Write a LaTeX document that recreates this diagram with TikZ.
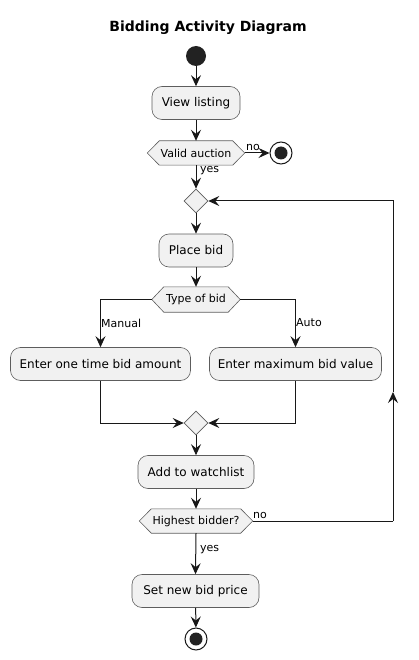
\documentclass[tikz,border=0pt]{standalone}
\usepackage{fontspec}
\setmainfont{DejaVu Sans}
\usetikzlibrary{arrows.meta,backgrounds,calc,shapes.geometric}
\definecolor{boxfill}{HTML}{F1F1F1}
\definecolor{boxline}{HTML}{5D5D5D}
\definecolor{ink}{HTML}{181818}
\definecolor{dot}{HTML}{222222}
\tikzset{
 actbox/.style={draw=boxline, fill=boxfill, rounded corners=10pt, line width=0.6pt, font=\fontsize{12}{14}\selectfont, inner sep=0pt, minimum height=33pt},
 hexnode/.style={inner sep=0pt, minimum height=24pt, font=\fontsize{11}{13}\selectfont},
 hexline/.style={draw=boxline, fill=boxfill, line width=0.6pt},
 flow/.style={draw=ink, line width=1pt, -{Stealth[length=11pt,width=10pt,inset=4pt]}},
 plain/.style={draw=ink, line width=1pt},
 lbl/.style={font=\fontsize{11}{13}\selectfont, inner sep=0pt, anchor=west, text=black},
 merge/.style={diamond, draw=boxline, fill=boxfill, line width=0.6pt, inner sep=0pt, minimum width=24pt, minimum height=24pt},
 startdot/.style={circle, fill=dot, minimum size=20pt, inner sep=0pt},
 enddot/.style={circle, draw=ink, fill=white, line width=1pt, minimum size=22pt, inner sep=0pt,
   path picture={\fill[dot] (path picture bounding box.center) circle (6.5pt);}}
}
\begin{document}
\begin{tikzpicture}[x=1pt,y=-1pt]
\useasboundingbox (0,0) rectangle (418,660);
\node[font=\bfseries\fontsize{14}{16}\selectfont] (title) at (208,28) {Bidding Activity Diagram};
\node[startdot] (start) at (196,56) {};
\node[actbox, minimum width=88pt] (vl) at (196,103) {View listing};
\node[hexnode, minimum width=97pt] (va) at (196,153) {Valid auction};
\node[enddot] (end1) at (281,153) {};
\node[merge] (m1) at (196,201) {};
\node[actbox, minimum width=74pt] (pb) at (196,250.5) {Place bid};
\node[hexnode, minimum width=88pt, minimum height=25pt] (tb) at (196,299.5) {Type of bid};
\node[actbox, minimum width=180pt] (e1) at (100.5,364) {Enter one time bid amount};
\node[actbox, minimum width=172pt] (e2) at (295.5,364) {Enter maximum bid value};
\node[merge] (m2) at (196,423) {};
\node[actbox, minimum width=116pt] (aw) at (196,472) {Add to watchlist};
\node[hexnode, minimum width=113pt] (hb) at (196,521) {Highest bidder?};
\node[actbox, minimum width=127pt] (sn) at (195.5,591) {Set new bid price};
\node[enddot] (end2) at (196,639) {};
\begin{scope}[on background layer]
\foreach \n in {va,tb,hb}
  \draw[hexline] (\n.west) -- ([xshift=12pt]\n.north west) -- ([xshift=-12pt]\n.north east) -- (\n.east) -- ([xshift=-12pt]\n.south east) -- ([xshift=12pt]\n.south west) -- cycle;
\end{scope}
\draw[flow] (start) -- (vl);
\draw[flow] (vl) -- (va);
\draw[flow] (va.east) -- (end1);
\draw[flow] (va.south) -- (m1.north);
\draw[flow] (m1.south) -- (pb.north);
\draw[flow] (pb) -- (tb);
\draw[flow] (tb.west) -| (e1.north);
\draw[flow] (tb.east) -| (e2.north);
\draw[flow] (e1.south) |- (m2.west);
\draw[flow] (e2.south) |- (m2.east);
\draw[flow] (m2.south) -- (aw.north);
\draw[flow] (aw) -- (hb);
\draw[flow] (hb.south) -- (sn.north);
\draw[flow] (sn) -- (end2);
\coordinate (lb) at (393,521);
\coordinate (lm) at (393,392);
\coordinate (lt) at (393,201);
\draw[plain] (hb.east) -- (lb);
\draw[flow] (lb) -- (lm);
\draw[flow] (lm) -- (lt) -- (m1.east);
\node[lbl] (l1) at (246,147) {no};
\node[lbl] (l2) at (200,171) {yes};
\node[lbl] (l3) at (101,323) {Manual};
\node[lbl] (l4) at (296,323) {Auto};
\node[lbl] (l5) at (253,515) {no};
\node[lbl] (l6) at (200,550) {yes};
\end{tikzpicture}
\end{document}
